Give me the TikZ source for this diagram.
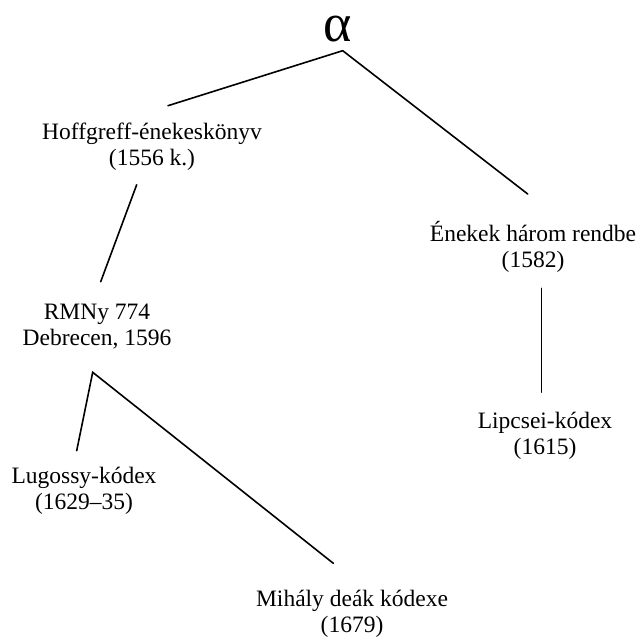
\documentclass[tikz,border=0pt]{standalone}
\usepackage{fontspec}
\setmainfont{Liberation Serif}
\begin{document}
\begin{tikzpicture}[x=1bp,y=-1bp,
  witness/.style={align=center,inner sep=0pt,
    font=\fontsize{23.5bp}{26bp}\selectfont},
  branch/.style={line width=1.6bp,line cap=round}]
\useasboundingbox (0,0) rectangle (636,637);

% archetype
\node[inner sep=0pt,font=\fontsize{54bp}{56bp}\selectfont] (alpha) at (338,29) {α};

% witnesses
\node[witness] (hoff) at (152,147) {Hoffgreff-énekeskönyv\\(1556 k.)};
\node[witness] (enek) at (533,247) {Énekek három rendbe\\(1582)};
\node[witness] (rmny) at (97,327) {RMNy 774\\Debrecen, 1596};
\node[witness] (lips) at (545,436) {Lipcsei-kódex\\(1615)};
\node[witness] (lugo) at (84,491) {Lugossy-kódex\\(1629–35)};
\node[witness] (miha) at (352,614) {Mihály deák kódexe\\(1679)};

% branch points and line ends
\coordinate (a0) at (342.7,50.7);
\coordinate (a1) at (168,105.7);
\coordinate (a2) at (527.7,194);
\coordinate (h1) at (136.7,184.7);
\coordinate (r0) at (100.7,281.7);
\coordinate (r1) at (92.7,372.3);
\coordinate (l1) at (76.7,450.7);
\coordinate (m1) at (333.3,563.3);
\coordinate (e1) at (541.3,288.3);
\coordinate (p1) at (541.3,392.3);

% stemma
\draw[branch] (a1) -- (a0) -- (a2);
\draw[branch] (h1) -- (r0);
\draw[branch] (l1) -- (r1) -- (m1);
\draw[branch] (e1) -- (p1);
\end{tikzpicture}
\end{document}
